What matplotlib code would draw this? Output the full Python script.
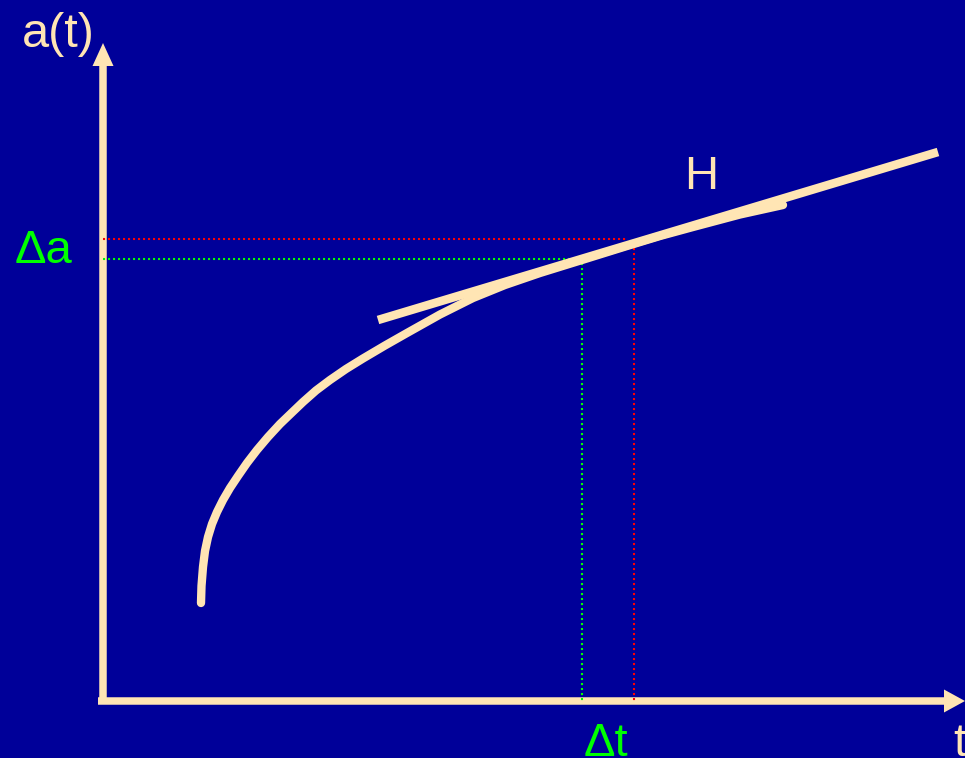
import matplotlib.pyplot as plt

#colores del dibujo
fondo = "#000099"
crema = "#FFE5B4"
verde = "#00FF00"
rojo = "#FF0000"

#curva a(t) (pixeles)
curva_x = [201, 201.5, 203, 205, 208, 212, 217, 223, 230, 238, 247, 257, 268, 280, 292, 303,
           316, 330, 346, 363, 385, 407, 440, 473, 505, 540, 582, 627, 660, 693, 740, 783]
curva_y = [603, 586, 567, 551, 537, 524, 512, 500, 488, 476, 463, 450, 437, 424, 412.5, 402,
           390.5, 380, 369, 358.5, 345.5, 333, 314.5, 298, 285, 273, 260, 246, 236, 227, 214.5, 205]

#recta tangente H
tang_x = [378, 938]
tang_y = [320, 152]

#punto verde y punto rojo sobre la tangente
verde_x, verde_y = 582, 259
rojo_x, rojo_y = 634, 239

#origen de los ejes
ox, oy = 103, 701

plt.rcParams['font.family'] = ['Liberation Sans', 'DejaVu Sans']
fig = plt.figure(figsize=(9.65, 7.58), dpi=100)
fig.patch.set_facecolor(fondo)
ax = fig.add_axes([0, 0, 1, 1])
ax.set_facecolor(fondo)
ax.set_xlim(0, 965)
ax.set_ylim(758, 0)
ax.axis("off")

#lineas punteadas
punteo = (0, (1, 1.4))
ax.plot([ox, rojo_x - 6], [rojo_y, rojo_y], color=rojo, ls=punteo, lw=1.5)
ax.plot([rojo_x, rojo_x], [rojo_y + 9, oy], color=rojo, ls=punteo, lw=1.5)
ax.plot([ox, verde_x - 10], [verde_y, verde_y], color=verde, ls=punteo, lw=1.5)
ax.plot([verde_x, verde_x], [verde_y + 4, oy], color=verde, ls=punteo, lw=1.5)

#ejes con flechas
ax.arrow(ox, oy + 3, 0, 43 - oy - 3, width=7.5, head_width=21, head_length=23,
         length_includes_head=True, color=crema, lw=0)
ax.arrow(98, oy, 965 - 98, 0, width=7.5, head_width=23, head_length=21,
         length_includes_head=True, color=crema, lw=0)

#curva y tangente
ax.plot(tang_x, tang_y, color=crema, lw=6.2, solid_capstyle="butt")
ax.plot(curva_x, curva_y, color=crema, lw=6.0, solid_capstyle="round",
        solid_joinstyle="round")

#textos
ax.text(22, 47, "a(t)", color=crema, fontsize=35, ha="left", va="baseline")
ax.text(15, 263, "Δa", color=verde, fontsize=34, ha="left", va="baseline")
ax.text(584, 756, "Δt", color=verde, fontsize=34, ha="left", va="baseline")
ax.text(953, 756, "t", color=crema, fontsize=34, ha="left", va="baseline")
ax.text(684, 189, "H", color=crema, fontsize=34, ha="left", va="baseline")

plt.savefig("out.png", dpi=100, facecolor=fondo)
